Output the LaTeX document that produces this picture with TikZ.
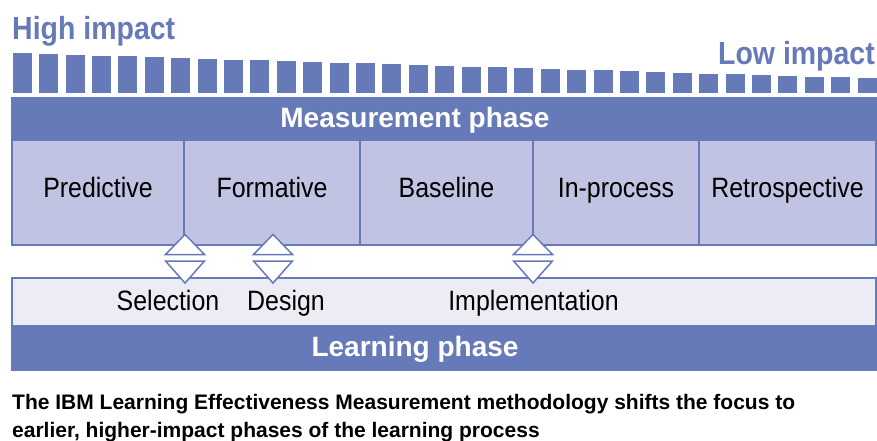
\documentclass[tikz,border=0pt]{standalone}
\usepackage{fontspec}
\setmainfont{Liberation Sans}
\newfontfamily\condfont[FakeStretch=0.89]{Liberation Sans}
\usetikzlibrary{positioning}

\definecolor{phaseblue}{RGB}{102,121,184}
\definecolor{boxblue}{RGB}{192,196,226}
\definecolor{learngray}{RGB}{236,237,244}

\newlength{\du}
\setlength{\du}{1pt}

\tikzset{
  impact/.style={inner sep=0pt, text=phaseblue, font=\condfont\bfseries\fontsize{32}{34}\selectfont},
  band/.style={draw=phaseblue, fill=phaseblue, line width=1.5\du, minimum width=864\du, inner sep=0pt},
  bandtext/.style={inner sep=0pt, text=white, text height=20\du, text depth=3\du, font=\bfseries\fontsize{28}{30}\selectfont},
  phasebox/.style={draw=phaseblue, fill=boxblue, line width=1.5\du, minimum height=105\du, inner sep=0pt,
    text height=20\du, text depth=10\du, font=\condfont\fontsize{28}{30}\selectfont},
  steplabel/.style={inner sep=0pt, font=\condfont\fontsize{28}{30}\selectfont},
  tri/.style={draw=phaseblue, fill=white, line width=1.5\du, line join=miter},
  caption/.style={inner sep=0pt, font=\bfseries\fontsize{21}{24}\selectfont}
}

\begin{document}
\begin{tikzpicture}
\pgftransformxscale{1.000000}
\pgftransformyscale{-1.000000}
\useasboundingbox (0\du,0\du) rectangle (877\du,441\du);
% impact scale
\node[impact, anchor=base west] (highimpact) at (12\du,40\du){High impact};
\node[impact, anchor=base east] (lowimpact) at (875\du,65\du){Low impact};
\foreach \i in {0,...,32}{
  \fill[phaseblue] ({(12.7+26.4*\i)*\du},{(53.3+0.78*\i)*\du}) rectangle ++(19\du,{(40-0.78*\i)*\du});
}
% measurement phase
\node[band, minimum height=42\du] (measband) at (444\du,119\du){};
\node[bandtext] (meastext) at (415\du,119\du){Measurement phase};
\node[phasebox, minimum width=172\du] (predictive) at (98\du,192.5\du){Predictive};
\node[phasebox, minimum width=176\du] (formative) at (272\du,192.5\du){Formative};
\node[phasebox, minimum width=173\du] (baseline) at (446.5\du,192.5\du){Baseline};
\node[phasebox, minimum width=166\du] (inprocess) at (616\du,192.5\du){In-process};
\node[phasebox, minimum width=177\du] (retrospective) at (787.5\du,192.5\du){Retrospective};
% learning phase
\node[band, fill=learngray, minimum height=48\du] (learnbox) at (444\du,302\du){};
\node[band, minimum height=44\du] (learnband) at (444\du,348\du){};
\node[bandtext] (learntext) at (415\du,348\du){Learning phase};
\node[steplabel, anchor=base] (selection) at (168\du,310\du){Selection};
\node[steplabel, anchor=base] (design) at (286\du,310\du){Design};
\node[steplabel, anchor=base] (implementation) at (533.5\du,310\du){Implementation};
% links between the phases
\coordinate (selpt) at (185\du,257.5\du);
\coordinate (despt) at (273\du,257.5\du);
\coordinate (implpt) at (533\du,257.5\du);
\foreach \p in {selpt,despt,implpt}{
  \draw[tri] (\p) ++(0,-23\du) -- ++(19.5\du,20\du) -- ++(-39\du,0) -- cycle;
  \draw[tri] (\p) ++(0,25.5\du) -- ++(19.5\du,-22\du) -- ++(-39\du,0) -- cycle;
}
% caption
\node[caption, anchor=base west] (captiona) at (12\du,409\du){The IBM Learning Effectiveness Measurement methodology shifts the focus to};
\node[caption, anchor=base west] (captionb) at (12\du,437\du){earlier, higher-impact phases of the learning process};
\end{tikzpicture}
\end{document}
